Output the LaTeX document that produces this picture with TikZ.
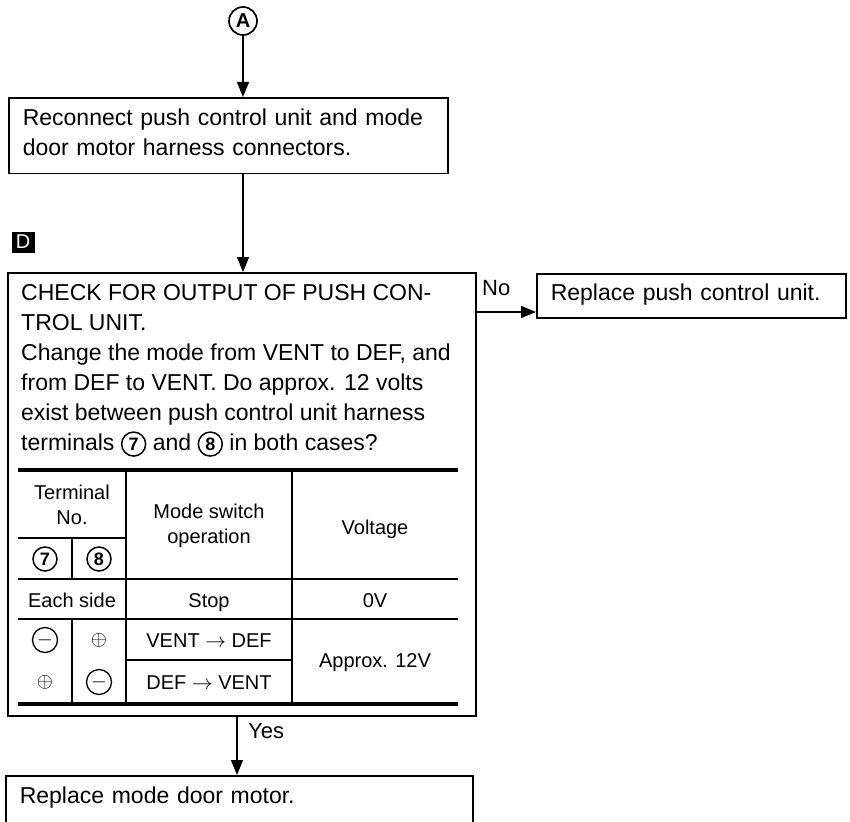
\documentclass[tikz,border=0pt]{standalone}
\usepackage{fontspec}
\setmainfont{Liberation Sans}
\usetikzlibrary{arrows.meta,positioning}

\tikzset{
  box/.style={draw, line width=1.6pt, inner xsep=14pt, inner ysep=11pt, align=left},
  frame/.style={draw, line width=1.6pt, inner sep=0pt},
  flow/.style={line width=1.4pt, -{Triangle[length=15pt, width=12pt]}},
  lbl/.style={inner sep=0pt, text height=15.5pt, text depth=0pt, font=\fontsize{22}{26}\selectfont},
  marker/.style={draw, circle, line width=1.7pt, inner sep=0pt, minimum size=28pt,
    font=\fontsize{20}{20}\selectfont\bfseries},
  stepmark/.style={fill=black, text=white, inner sep=0pt, minimum width=23pt,
    minimum height=21pt, font=\fontsize{20}{20}\selectfont},
  tablerule/.style={line width=1.5pt},
  heavyrule/.style={line width=4.5pt},
  cell/.style={inner sep=0pt, align=center, font=\fontsize{20}{25}\selectfont},
  cellone/.style={cell, text height=14.3pt, text depth=0pt},
  circnum/.style={draw, circle, line width=1.5pt, inner sep=0pt, minimum size=24pt,
    font=\fontsize{18}{18}\selectfont\bfseries},
  minuscirc/.style={draw, circle, line width=1.3pt, inner sep=0pt, minimum size=25pt,
    font=\fontsize{20}{20}\selectfont},
}
\newcommand{\circnum}[1]{\tikz[baseline=(cn.base)] \node[circnum] (cn) {#1};}

\begin{document}
\begin{tikzpicture}[x=1pt, y=-1pt, font=\fontsize{23}{30}\selectfont]
  \useasboundingbox (0,0) rectangle (850,821);
  \clip (0,0) rectangle (850,821);

  % --- entry point and first step ---
  \node[marker] (markA) at (243,21) {A};
  \node[box, anchor=north west, text width=411pt, text depth=37pt] (reconnect) at (8,97)
    {Reconnect push control unit and mode\\door motor harness connectors.};
  \draw[flow] (markA) -- (markA |- reconnect.north);

  % --- step D: check output ---
  \node[stepmark] (markD) at (23,242) {D};
  \node[frame, anchor=north west, minimum width=468pt, minimum height=443pt] (check) at (7,272) {};
  \draw[flow] (reconnect.south -| markA) -- (check.north -| markA);
  \node[anchor=north west, align=left, inner sep=0pt] (question) at (21,284)
    {CHECK FOR OUTPUT OF PUSH CON-\\TROL UNIT.\\Change the mode from VENT to DEF, and\\
     from DEF to VENT. Do approx. 12 volts\\exist between push control unit harness\\
     terminals \circnum{7} and \circnum{8} in both cases?};

  % table rules
  \draw[heavyrule] (18,470) -- (458,470);
  \draw[heavyrule] (18,704) -- (458,704);
  \draw[tablerule] (18,538) -- (126,538);
  \draw[tablerule] (18,579) -- (458,579);
  \draw[tablerule] (18,619) -- (458,619);
  \draw[tablerule] (126,660) -- (292,660);
  \draw[tablerule] (126,470) -- (126,704);
  \draw[tablerule] (292,470) -- (292,704);
  \draw[tablerule] (72,538) -- (72,579);
  \draw[tablerule] (72,619) -- (72,704);

  % table cells
  \node[cell] (hterm) at (72,505) {Terminal\\No.};
  \node[circnum] (h7) at (45,559) {7};
  \node[circnum] (h8) at (99,559) {8};
  \node[cell] (hmode) at (209,526) {Mode switch\\operation};
  \node[cellone] (hvolt) at (375,527) {Voltage};
  \node[cellone] (each) at (72,600) {Each side};
  \node[cellone] (stop) at (209,600) {Stop};
  \node[cellone] (zero) at (375,600) {0V};
  \node[minuscirc] (neg1) at (45,640) {$-$};
  \node[cell] (pos1) at (99,640) {$\oplus$};
  \node[cellone] (ventdef) at (209,640) {VENT $\rightarrow$ DEF};
  \node[cell] (pos2) at (45,682) {$\oplus$};
  \node[minuscirc] (neg2) at (99,682) {$-$};
  \node[cellone] (defvent) at (209,682) {DEF $\rightarrow$ VENT};
  \node[cellone] (twelve) at (375,660) {Approx. 12V};

  % --- No branch ---
  \node[box, anchor=north west, text width=281pt, inner ysep=10pt, text depth=7.5pt] (push) at (536,273)
    {Replace push control unit.};
  \coordinate (nojoin) at (check.east |- 0,312);
  \draw[flow] (nojoin) -- (nojoin -| push.west);
  \node[lbl, anchor=west] (nolbl) at (482,288) {No};

  % --- Yes branch ---
  \node[box, anchor=north west, text width=439pt, text depth=60pt] (motor) at (5,775)
    {Replace mode door motor.};
  \coordinate (yesjoin) at (237,715);
  \draw[flow] (yesjoin) -- (yesjoin |- motor.north);
  \node[lbl, anchor=west] (yeslbl) at (248,731) {Yes};
\end{tikzpicture}
\end{document}
